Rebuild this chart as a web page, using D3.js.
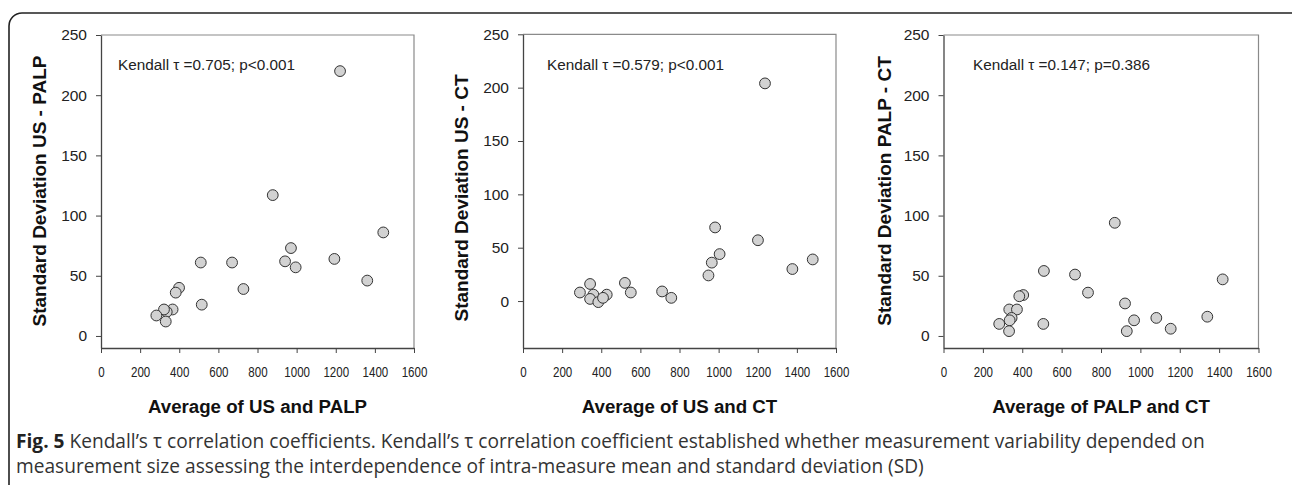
<!DOCTYPE html>
<html>
<head>
<meta charset="utf-8">
<script src="https://cdn.jsdelivr.net/npm/d3@7"></script>
<style>
  body { margin: 0; background: #fff; }
  svg { display: block; }
</style>
</head>
<body>
<script>
// data
var xTicks = [0, 200, 400, 600, 800, 1000, 1200, 1400, 1600];
var yTicks = [0, 50, 100, 150, 200, 250];

// US vs PALP
var avgUsPalp = [1222, 878, 1443, 971, 941, 995, 1193, 1361, 510, 670, 728, 515, 399, 382, 366, 336, 322, 283, 331];
var sdUsPalp  = [220, 117, 86, 73, 62, 57, 64, 46, 61, 61, 39, 26, 40, 36, 22, 20, 22, 17, 12];

// US vs CT
var avgUsCt = [1237, 982, 1201, 1005, 965, 948, 1377, 1481, 711, 758, 521, 551, 291, 343, 360, 343, 385, 428, 409];
var sdUsCt  = [204, 69, 57, 44, 36, 24, 30, 39, 9, 3, 17, 8, 8, 16, 6, 2, -1, 6, 3];

// PALP vs CT
var avgPalpCt = [870, 1418, 510, 668, 734, 922, 968, 931, 1081, 1154, 1340, 507, 405, 385, 334, 373, 346, 336, 283, 333];
var sdPalpCt  = [94, 47, 54, 51, 36, 27, 13, 4, 15, 6, 16, 10, 34, 33, 22, 22, 15, 13, 10, 4];

var xTitles = ["Average of US and PALP", "Average of US and CT", "Average of PALP and CT"];
var yTitles = ["Standard Deviation US - PALP", "Standard Deviation US - CT", "Standard Deviation PALP - CT"];
var notes = ["Kendall \u03c4 =0.705; p<0.001", "Kendall \u03c4 =0.579; p<0.001", "Kendall \u03c4 =0.147; p=0.386"];

var caption1 = " Kendall\u2019s \u03c4 correlation coefficients. Kendall\u2019s \u03c4 correlation coefficient established whether measurement variability depended on";
var caption2 = "measurement size assessing the interdependence of intra-measure mean and standard deviation (SD)";

var W = 1292, H = 485;

var svg = d3.select("body").append("svg")
    .attr("width", W)
    .attr("height", H);

// rounded frame round the whole figure
svg.append("rect")
    .attr("x", 9).attr("y", 13)
    .attr("width", 1300).attr("height", 520)
    .attr("rx", 13).attr("ry", 13)
    .attr("fill", "none")
    .attr("stroke", "#222")
    .attr("stroke-width", 1.6);

var panels = [
  { xs: avgUsPalp, ys: sdUsPalp, left: 101, right: 414, top: 35, bottom: 348, ymin: -10, titleX: 46, titleY: 191, noteX: 118 },
  { xs: avgUsCt, ys: sdUsCt, left: 523, right: 836, top: 34.3, bottom: 348, ymin: -44, titleX: 468, titleY: 198, noteX: 547 },
  { xs: avgPalpCt, ys: sdPalpCt, left: 943.5, right: 1258.5, top: 35, bottom: 348, ymin: -10, titleX: 891, titleY: 191, noteX: 973 }
];

panels.forEach(function(p, i) {
    var x = d3.scaleLinear().domain([0, 1600]).range([p.left, p.right]);
    var y = d3.scaleLinear().domain([p.ymin, 250]).range([p.bottom, p.top]);

    var g = svg.append("g");

    // top and right frame lines (lighter)
    g.append("path")
        .attr("d", "M" + p.left + "," + p.top + "H" + p.right + "V" + p.bottom)
        .attr("fill", "none")
        .attr("stroke", "#8a8a8a")
        .attr("stroke-width", 1.2);

    var xAxis = d3.axisBottom(x).tickValues(xTicks).tickFormat(d3.format("d"))
        .tickSize(5).tickSizeOuter(0).tickPadding(13);
    var yAxis = d3.axisLeft(y).tickValues(yTicks).tickFormat(d3.format("d"))
        .tickSize(5).tickSizeOuter(0).tickPadding(9);

    var gx = g.append("g").attr("transform", "translate(0," + p.bottom + ")").call(xAxis);
    var gy = g.append("g").attr("transform", "translate(" + p.left + ",0)").call(yAxis);

    gx.select(".domain").attr("stroke", "#444").attr("stroke-width", 1.3);
    gy.select(".domain").attr("stroke", "#444").attr("stroke-width", 1.3);
    gx.selectAll(".tick line").attr("stroke", "#444");
    gy.selectAll(".tick line").attr("stroke", "#444");

    // x tick labels are squeezed sideways in the figure
    gx.selectAll("text")
        .attr("fill", "#222")
        .attr("transform", "scale(0.77,1)")
        .style("font-family", "'Liberation Sans', Arial, sans-serif")
        .style("font-size", "15px");
    gy.selectAll("text")
        .attr("fill", "#222")
        .style("font-family", "'Liberation Sans', Arial, sans-serif")
        .style("font-size", "15.5px");

    // points
    g.selectAll("circle")
        .data(d3.range(p.xs.length))
        .enter().append("circle")
        .attr("cx", function(d) { return x(p.xs[d]); })
        .attr("cy", function(d) { return y(p.ys[d]); })
        .attr("r", 5.4)
        .attr("fill", "#d2d2d2")
        .attr("stroke", "#333")
        .attr("stroke-width", 1);

    // kendall note
    g.append("text")
        .attr("x", p.noteX)
        .attr("y", 70)
        .style("font-family", "'Liberation Sans', Arial, sans-serif")
        .style("font-size", "15.3px")
        .attr("fill", "#222")
        .text(notes[i]);

    // axis titles
    g.append("text")
        .attr("x", (p.left + p.right) / 2)
        .attr("y", 413)
        .attr("text-anchor", "middle")
        .style("font-family", "'Liberation Sans', Arial, sans-serif")
        .style("font-size", "18.7px")
        .style("font-weight", "bold")
        .attr("fill", "#111")
        .text(xTitles[i]);

    g.append("text")
        .attr("transform", "translate(" + p.titleX + "," + p.titleY + ") rotate(-90)")
        .attr("text-anchor", "middle")
        .style("font-family", "'Liberation Sans', Arial, sans-serif")
        .style("font-size", "19px")
        .style("font-weight", "bold")
        .attr("fill", "#111")
        .text(yTitles[i]);
});

// caption, sized so the first line ends where it does in the figure
var cap = svg.append("g")
    .style("font-family", "'Open Sans', 'Noto Sans', sans-serif")
    .attr("fill", "#333");

var line1 = cap.append("text").attr("x", 16).attr("y", 448);
line1.append("tspan").style("font-weight", "bold").attr("fill", "#222").text("Fig. 5");
line1.append("tspan").text(caption1);
var line2 = cap.append("text").attr("x", 16).attr("y", 473).text(caption2);

cap.style("font-size", "16px");
var w1 = line1.node().getComputedTextLength();
var fs = 16 * 1189 / w1;
cap.style("font-size", fs + "px");
</script>
</body>
</html>
